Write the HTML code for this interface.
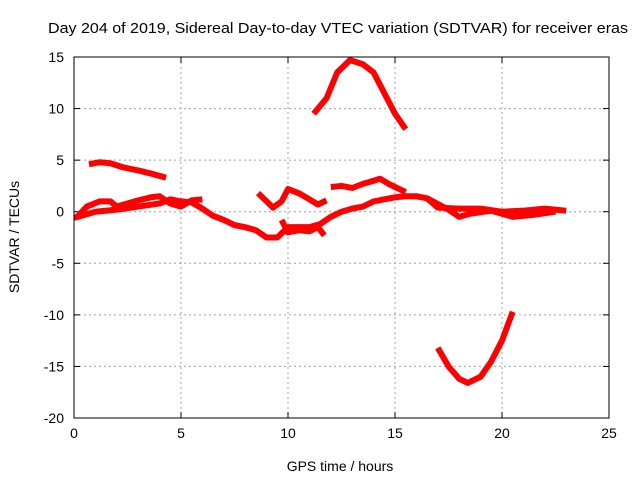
<!DOCTYPE html>
<html><head><meta charset="utf-8"><style>
body{margin:0;background:#fff}
svg{display:block;font-family:"Liberation Sans",sans-serif}
</style></head><body>
<svg id="chart" width="640" height="480" viewBox="0 0 640 480">
<text x="48" y="33" font-size="15" textLength="580" lengthAdjust="spacingAndGlyphs">Day 204 of 2019, Sidereal Day-to-day VTEC variation (SDTVAR) for receiver eras</text>
<g id="grid"></g>
<g id="axes"></g>
<g id="series"></g>
<rect x="74" y="57" width="535" height="361" fill="none" stroke="#000" stroke-width="1"/>
<text x="340" y="471" font-size="14" text-anchor="middle">GPS time / hours</text>
<text transform="translate(19,237) rotate(-90)" font-size="14" text-anchor="middle">SDTVAR / TECUs</text>
</svg>
<script>
const xTicks=[0,5,10,15,20,25];
const yTicks=[15,10,5,0,-5,-10,-15,-20];
const seriesArc=[[11.2,9.5],[11.8,11],[12.3,13.5],[12.9,14.7],[13.5,14.3],[14,13.5],[14.5,11.5],[15,9.5],[15.5,8]];
const seriesUpperLeft=[[0.7,4.6],[1.2,4.8],[1.7,4.7],[2.3,4.3],[3,4],[3.6,3.7],[4.3,3.3]];
const seriesDip=[[17,-13.2],[17.5,-15],[18,-16.2],[18.4,-16.6],[19,-16],[19.5,-14.5],[20,-12.5],[20.5,-9.7]];
const seriesMain=[[0,-0.6],[0.5,-0.3],[1,0],[2,0.2],[3,0.5],[4,0.8],[4.5,1.2],[5,1],[5.5,0.9],[6,0.3],[6.5,-0.4],[7,-0.8],[7.5,-1.3],[8,-1.5],[8.5,-1.8],[9,-2.5],[9.5,-2.5],[10,-1.5],[10.5,-1.5],[11,-1.5],[11.5,-1.2],[12,-0.5],[12.5,0],[13,0.3],[13.5,0.5],[14,1],[14.5,1.2],[15,1.4],[15.5,1.5],[16,1.5],[16.5,1.3],[17,0.4],[18,0.3],[19,0.3],[20,0],[21,0.1],[22,0.3],[23,0.1]];
const seriesLeftLoop=[[0.1,-0.6],[0.6,0.5],[1.2,1],[1.7,1],[2,0.5],[2.5,0.8],[3,1.1],[3.6,1.4],[4,1.5],[4.5,0.8],[5,0.5],[5.5,1.1],[6,1.2]];
const seriesMidUpper=[[8.6,1.8],[9,1],[9.3,0.4],[9.7,1],[10,2.2],[10.5,1.8],[11,1.2],[11.4,0.7],[11.8,1.1]];
const seriesUpperRight=[[12,2.4],[12.5,2.5],[13,2.3],[13.5,2.7],[14,3],[14.3,3.2],[14.7,2.7],[15.2,2.2],[15.5,1.9]];
const seriesLowMid=[[9.7,-0.8],[10,-2],[10.5,-1.8],[11,-1.9],[11.4,-1.5],[11.7,-2.3]];
const seriesRightLow=[[16.5,1.3],[17.5,0.2],[18,-0.5],[18.5,-0.2],[19.5,0.1],[20.5,-0.5],[21.5,-0.3],[22.5,0]];

const ns="http://www.w3.org/2000/svg";
const X0=74,X1=609,Y0=418,Y1=57;
const sx=v=>X0+(v-0)/25*(X1-X0);
const sy=v=>Y0-(v+20)/35*(Y0-Y1);
const grid=document.getElementById('grid'),axes=document.getElementById('axes'),ser=document.getElementById('series');
function mk(tag,attrs,parent){const e=document.createElementNS(ns,tag);for(const k in attrs)e.setAttribute(k,attrs[k]);parent.appendChild(e);return e;}
xTicks.forEach(t=>{
  const x=sx(t);
  if(t>0&&t<25){const g=mk('line',{x1:x,x2:x,y1:Y1,y2:Y0,stroke:'#a0a0a0','stroke-dasharray':'2,3'},grid);
  
  }
  mk('line',{x1:x,x2:x,y1:Y0,y2:Y0-6,stroke:'#000'},axes);
  mk('line',{x1:x,x2:x,y1:Y1,y2:Y1+6,stroke:'#000'},axes);
  const tx=mk('text',{x:x,y:Y0+20,'font-size':14,'text-anchor':'middle'},axes);
  tx.textContent=t;
  
  
});
yTicks.forEach(t=>{
  const y=sy(t);
  if(t>-20&&t<15){const g=mk('line',{x1:X0,x2:X1,y1:y,y2:y,stroke:'#a0a0a0','stroke-dasharray':'2,3'},grid);
  
  }
  mk('line',{x1:X0,x2:X0+6,y1:y,y2:y,stroke:'#000'},axes);
  mk('line',{x1:X1,x2:X1-6,y1:y,y2:y,stroke:'#000'},axes);
  const tx=mk('text',{x:X0-10,y:y+5,'font-size':14,'text-anchor':'end'},axes);
  tx.textContent=t;
  
  
});
const all=[seriesArc,seriesUpperLeft,seriesDip,seriesMain,seriesLeftLoop,seriesMidUpper,seriesUpperRight,seriesLowMid,seriesRightLow];
all.forEach(s=>{
  const p=mk('polyline',{points:s.map(d=>sx(d[0])+','+sy(d[1])).join(' '),fill:'none',stroke:'#ff0000','stroke-width':6,'stroke-linejoin':'round','stroke-linecap':'butt'},ser);
  
  
});
</script>
</body></html>
